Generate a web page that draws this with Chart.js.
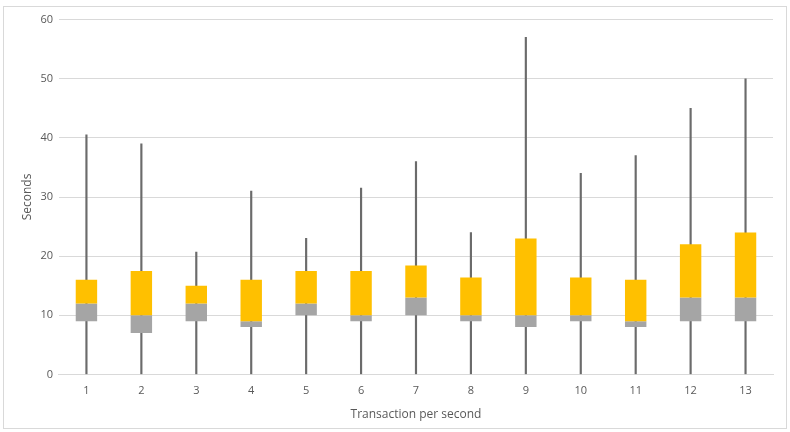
<!DOCTYPE html>
<html>
<head>
<meta charset="utf-8">
<script src="https://cdn.jsdelivr.net/npm/chart.js@4.4.0/dist/chart.umd.min.js"></script>
<style>
  html, body { margin: 0; padding: 0; background: #fff; }
  #frame {
    position: absolute; left: 3px; top: 6px;
    width: 782px; height: 421px;
    border: 1px solid #d9d9d9;
  }
</style>
</head>
<body>
<div id="frame"><canvas id="myChart1" width="782" height="421"></canvas></div>
<script>
// box plot pieces
const categories = ['1', '2', '3', '4', '5', '6', '7', '8', '9', '10', '11', '12', '13'];
const lowQuartile = [9, 7, 9, 8, 10, 9, 10, 9, 8, 9, 8, 9, 9];
const medians = [12, 10, 12, 9, 12, 10, 13, 10, 10, 10, 9, 13, 13];
const highQuartile = [16, 17.5, 15, 16, 17.5, 17.5, 18.4, 16.4, 23, 16.4, 16, 22, 24];
const maxValues = [40.5, 39, 20.7, 31, 23, 31.5, 36, 24, 57, 34, 37, 45, 50];
const yTicks = [0, 10, 20, 30, 40, 50, 60];

const font = { family: 'Open Sans', size: 11 };
const textColor = '#595959';

const lowerBox = categories.map((c, i) => [lowQuartile[i], medians[i]]);
const upperBox = categories.map((c, i) => [medians[i], highQuartile[i]]);
const whiskers = categories.map((c, i) => [0, maxValues[i]]);

new Chart(document.getElementById('myChart1').getContext('2d'), {
  type: 'bar',
  data: {
    labels: categories,
    datasets: [
      {
        label: 'Q3',
        data: upperBox,
        backgroundColor: '#ffc000',
        grouped: false,
        barPercentage: 0.39,
        categoryPercentage: 1
      },
      {
        label: 'Q1',
        data: lowerBox,
        backgroundColor: '#a5a5a5',
        grouped: false,
        barPercentage: 0.39,
        categoryPercentage: 1
      },
      {
        label: 'Range',
        data: whiskers,
        backgroundColor: '#6b6b6b',
        grouped: false,
        barThickness: 1.5
      }
    ]
  },
  options: {
    responsive: false,
    animation: false,
    layout: { padding: { top: 12, right: 13, bottom: 6, left: 16 } },
    plugins: {
      legend: { display: false },
      tooltip: { enabled: false }
    },
    scales: {
      x: {
        grid: { display: false },
        border: { color: '#d9d9d9' },
        ticks: { color: textColor, font: font, padding: 2 },
        title: {
          display: true,
          text: 'Transaction per second',
          color: textColor,
          font: { family: 'Open Sans', size: 12 },
          padding: { top: 8, bottom: 0 }
        }
      },
      y: {
        min: 0,
        max: 60,
        afterBuildTicks: axis => { axis.ticks = yTicks.map(v => ({ value: v })); },
        grid: { color: '#d9d9d9', drawTicks: false },
        border: { display: false },
        ticks: { color: textColor, font: font, padding: 6 },
        title: {
          display: true,
          text: 'Seconds',
          color: textColor,
          font: { family: 'Open Sans', size: 12 },
          padding: { top: 0, bottom: 0 }
        }
      }
    }
  }
});
</script>
</body>
</html>
